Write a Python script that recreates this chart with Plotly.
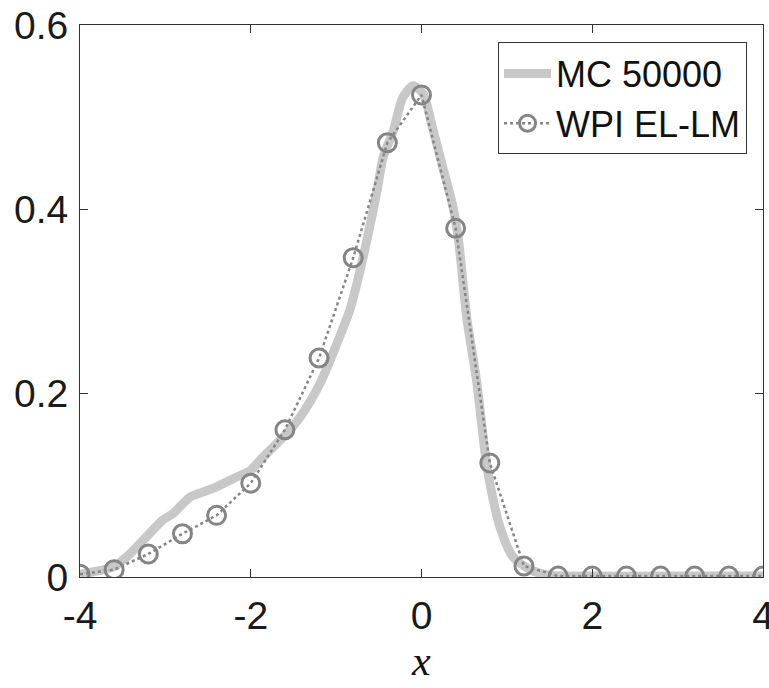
import plotly.graph_objects as go

# MC 50000 reference curve
mc_x = [-4.0, -3.61, -3.45, -3.26, -3.03, -2.91, -2.71, -2.6, -2.4, -2.16, -2.0, -1.89,
        -1.74, -1.58, -1.42, -1.19, -0.99, -0.84, -0.72, -0.64, -0.52, -0.45, -0.33,
        -0.22, -0.10, 0.02, 0.13, 0.25, 0.36, 0.43, 0.53, 0.65, 0.74, 0.80, 0.92, 1.07,
        1.27, 1.5, 2.0, 3.0, 4.0]
mc_y = [0.003, 0.011, 0.022, 0.040, 0.062, 0.069, 0.087, 0.091, 0.098, 0.109, 0.116, 0.127,
        0.141, 0.156, 0.174, 0.210, 0.254, 0.290, 0.333, 0.366, 0.420, 0.456, 0.485,
        0.521, 0.534, 0.525, 0.488, 0.445, 0.406, 0.369, 0.282, 0.210, 0.138, 0.102, 0.054, 0.022,
        0.008, 0.002, 0.001, 0.001, 0.001]

# WPI EL-LM points
wpi_x = [-4.0, -3.6, -3.2, -2.8, -2.4, -2.0, -1.6, -1.2, -0.8, -0.4, 0.0,
         0.4, 0.8, 1.2, 1.6, 2.0, 2.4, 2.8, 3.2, 3.6, 4.0]
wpi_y = [0.003, 0.008, 0.025, 0.047, 0.067, 0.102, 0.160, 0.238, 0.347, 0.472, 0.524,
         0.379, 0.124, 0.012, 0.001, 0.001, 0.001, 0.001, 0.001, 0.001, 0.001]

x_ticks = [-4, -2, 0, 2, 4]
x_tick_text = ["-4", "-2", "0", "2", "4"]
y_ticks = [0, 0.2, 0.4, 0.6]
y_tick_text = ["0", "0.2", "0.4", "0.6"]

fig = go.Figure()
fig.add_trace(go.Scatter(
    x=mc_x, y=mc_y, mode="lines", name="MC 50000",
    line=dict(color="#c8c8c8", width=9, shape="spline", smoothing=0.7),
    legendgroup="a"))
fig.add_trace(go.Scatter(
    x=wpi_x, y=wpi_y, mode="lines+markers", name="WPI EL-LM",
    line=dict(color="#858585", width=2.5, dash="dot"),
    marker=dict(symbol="circle-open", size=18, color="#858585", line=dict(width=3, color="#858585")),
    legendgroup="b"))

tick_font = dict(family="Liberation Sans, Arial", size=39, color="#1a1a1a")

fig.update_layout(
    width=769, height=688,
    margin=dict(l=80, r=6, t=25, b=111),
    paper_bgcolor="white", plot_bgcolor="white",
    showlegend=True,
    legend=dict(
        x=0.9766, y=0.9683, xanchor="right", yanchor="top",
        bgcolor="white", bordercolor="#333333", borderwidth=1,
        font=dict(family="Liberation Sans, Arial", size=36, color="#111111"),
        itemwidth=47, tracegroupgap=0, traceorder="grouped"),
    xaxis=dict(
        range=[-4, 4], tickvals=x_ticks, ticktext=x_tick_text, ticks="inside", ticklen=8,
        tickcolor="#333333", automargin=False, ticklabeloverflow="allow",
        showline=True, linecolor="#333333", linewidth=1, mirror="ticks",
        showgrid=False, zeroline=False, tickfont=tick_font, ticklabelstandoff=4),
    yaxis=dict(
        range=[0, 0.6], tickvals=y_ticks, ticktext=y_tick_text, ticks="inside", ticklen=8,
        tickcolor="#333333", automargin=False, ticklabeloverflow="allow",
        showline=True, linecolor="#333333", linewidth=1, mirror="ticks",
        showgrid=False, zeroline=False, tickfont=tick_font, ticklabelstandoff=3),
    annotations=[
        dict(text="PDF of <i>x</i>", xref="paper", yref="paper", x=0.4993, y=1.028,
             xanchor="center", yanchor="bottom", showarrow=False,
             font=dict(family="Liberation Sans, Arial", size=44, color="#111111")),
        dict(text="<i>x</i>", xref="paper", yref="paper", x=0.4993, y=-0.152,
             xanchor="center", yanchor="middle", showarrow=False,
             font=dict(family="Liberation Serif, DejaVu Serif", size=42, color="#111111")),
    ],
)

fig.write_html("out.html", config={"displayModeBar": False},
               post_script="document.body.style.margin='0';")
